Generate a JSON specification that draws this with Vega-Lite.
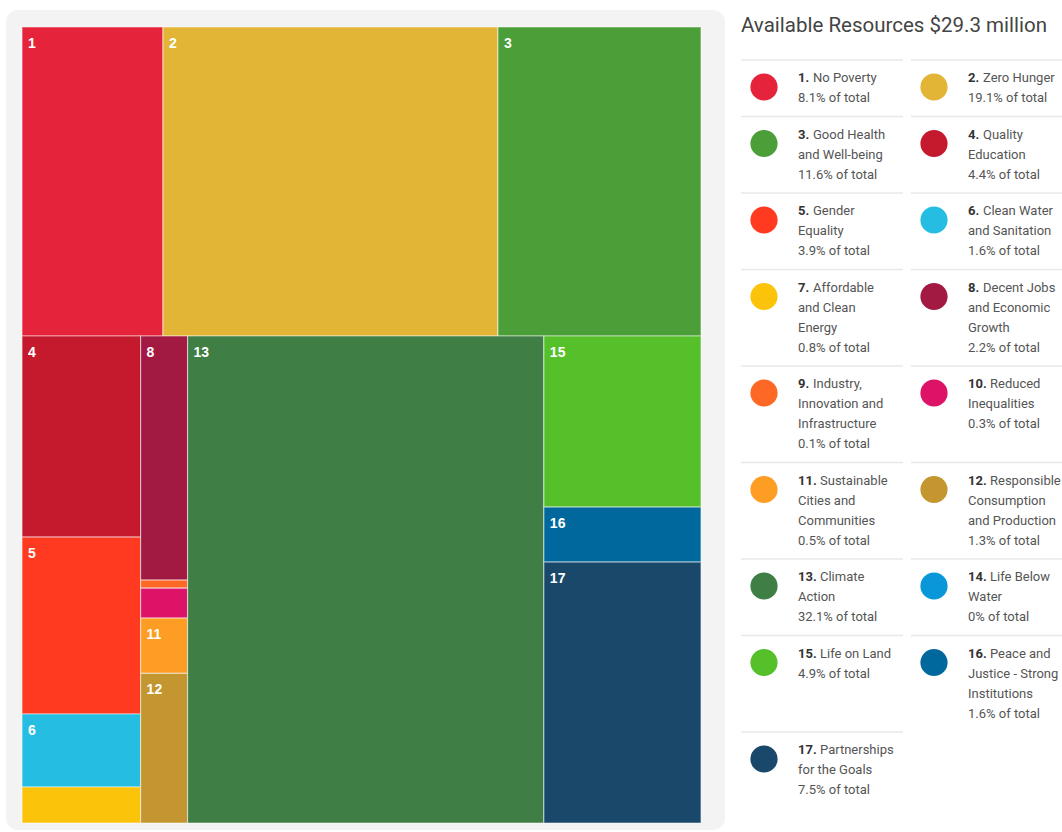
{
  "$schema": "https://vega.github.io/schema/vega-lite/v6.json",
  "padding": {"left": 6, "top": 10, "right": 0, "bottom": 0},
  "background": "white",
  "config": {"view": {"stroke": null}},
  "data": {"values": [
    {"id": 1, "num": "1.", "band": "top", "block": 1, "value": 8.06, "lines": ["No Poverty", "8.1% of total"]},
    {"id": 2, "num": "2.", "band": "top", "block": 2, "value": 19.15, "lines": ["Zero Hunger", "19.1% of total"]},
    {"id": 3, "num": "3.", "band": "top", "block": 3, "value": 11.61, "lines": ["Good Health", "and Well-being", "11.6% of total"]},
    {"id": 4, "num": "4.", "band": "bottom", "block": 1, "value": 4.41, "lines": ["Quality", "Education", "4.4% of total"]},
    {"id": 5, "num": "5.", "band": "bottom", "block": 1, "value": 3.88, "lines": ["Gender", "Equality", "3.9% of total"]},
    {"id": 6, "num": "6.", "band": "bottom", "block": 1, "value": 1.6, "lines": ["Clean Water", "and Sanitation", "1.6% of total"]},
    {"id": 7, "num": "7.", "band": "bottom", "block": 1, "value": 0.79, "lines": ["Affordable", "and Clean", "Energy", "0.8% of total"]},
    {"id": 8, "num": "8.", "band": "bottom", "block": 2, "value": 2.12, "lines": ["Decent Jobs", "and Economic", "Growth", "2.2% of total"]},
    {"id": 9, "num": "9.", "band": "bottom", "block": 2, "value": 0.07, "lines": ["Industry,", "Innovation and", "Infrastructure", "0.1% of total"]},
    {"id": 10, "num": "10.", "band": "bottom", "block": 2, "value": 0.26, "lines": ["Reduced", "Inequalities", "0.3% of total"]},
    {"id": 11, "num": "11.", "band": "bottom", "block": 2, "value": 0.48, "lines": ["Sustainable", "Cities and", "Communities", "0.5% of total"]},
    {"id": 12, "num": "12.", "band": "bottom", "block": 2, "value": 1.3, "lines": ["Responsible", "Consumption", "and Production", "1.3% of total"]},
    {"id": 13, "num": "13.", "band": "bottom", "block": 3, "value": 32.08, "lines": ["Climate", "Action", "32.1% of total"]},
    {"id": 14, "num": "14.", "band": "bottom", "block": 4, "value": 0, "lines": ["Life Below", "Water", "0% of total"]},
    {"id": 15, "num": "15.", "band": "bottom", "block": 4, "value": 4.97, "lines": ["Life on Land", "4.9% of total"]},
    {"id": 16, "num": "16.", "band": "bottom", "block": 4, "value": 1.6, "lines": ["Peace and", "Justice - Strong", "Institutions", "1.6% of total"]},
    {"id": 17, "num": "17.", "band": "bottom", "block": 4, "value": 7.58, "lines": ["Partnerships", "for the Goals", "7.5% of total"]}
  ]},
  "spacing": 15,
  "hconcat": [
    {
      "spacing": 0,
      "bounds": "flush",
      "vconcat": [
        {
          "width": 719,
          "height": 326,
          "layer": [
            {
              "data": {"values": [{}]},
              "mark": {"type": "rect", "color": "#f3f3f3", "cornerRadius": 12},
              "encoding": {
                "x": {"datum": -0.02356, "type": "quantitative", "axis": null},
                "x2": {"datum": 1.03535},
                "y": {"datum": -0.05502, "type": "quantitative", "axis": null},
                "y2": {"datum": 2.5987}
              }
            },
            {
              "transform": [
                {"filter": "datum.band == 'top' && datum.value > 0"},
                {"stack": "value", "groupby": [], "sort": [{"field": "block"}, {"field": "id"}], "offset": "normalize", "as": ["s0", "s1"]},
                {"joinaggregate": [{"op": "min", "field": "s0", "as": "x0"}, {"op": "max", "field": "s1", "as": "x1"}], "groupby": ["block"]},
                {"stack": "value", "groupby": ["block"], "sort": [{"field": "id"}], "offset": "normalize", "as": ["y0", "y1"]}
              ],
              "layer": [
                {
                  "mark": {"type": "rect", "stroke": "white", "strokeWidth": 1.2, "strokeOpacity": 0.5},
                  "encoding": {
                    "x": {"field": "x0", "type": "quantitative", "axis": null, "scale": {"domain": [-0.02356, 1.03535], "nice": false, "zero": false}},
                    "x2": {"field": "x1"},
                    "y": {"field": "y0", "type": "quantitative", "axis": null, "scale": {"domain": [-0.05502, 1], "reverse": true, "nice": false, "zero": false}},
                    "y2": {"field": "y1"},
                    "color": {"field": "id", "type": "nominal", "legend": null, "scale": {"domain": [1,2,3,4,5,6,7,8,9,10,11,12,13,14,15,16,17], "range": ["#E5243B","#E2B536","#4C9F38","#C5192D","#FF3A21","#26BDE2","#FCC30B","#A21942","#FD6925","#DD1367","#FD9D24","#C4962F","#3F7E44","#0A97D9","#56C02B","#00689D","#19486A"]}}
                  }
                },
                {
                  "mark": {"type": "text", "align": "left", "baseline": "alphabetic", "dx": 6, "dy": 20.5, "font": "Liberation Sans", "fontWeight": "bold", "fontSize": 14, "color": "white"},
                  "encoding": {
                    "x": {"field": "x0", "type": "quantitative"},
                    "y": {"field": "y0", "type": "quantitative"},
                    "text": {"field": "id"}
                  }
                }
              ]
            }
          ]
        },
        {
          "width": 719,
          "height": 494,
          "transform": [
            {"filter": "datum.band == 'bottom' && datum.value > 0"},
            {"stack": "value", "groupby": [], "sort": [{"field": "block"}, {"field": "id"}], "offset": "normalize", "as": ["s0", "s1"]},
            {"joinaggregate": [{"op": "min", "field": "s0", "as": "x0"}, {"op": "max", "field": "s1", "as": "x1"}], "groupby": ["block"]},
            {"stack": "value", "groupby": ["block"], "sort": [{"field": "id"}], "offset": "normalize", "as": ["y0", "y1"]}
          ],
          "layer": [
            {
              "mark": {"type": "rect", "stroke": "white", "strokeWidth": 1.2, "strokeOpacity": 0.5},
              "encoding": {
                "x": {"field": "x0", "type": "quantitative", "axis": null, "scale": {"domain": [-0.02356, 1.03535], "nice": false, "zero": false}},
                "x2": {"field": "x1"},
                "y": {"field": "y0", "type": "quantitative", "axis": null, "scale": {"domain": [0, 1.01437], "reverse": true, "nice": false, "zero": false}},
                "y2": {"field": "y1"},
                "color": {"field": "id", "type": "nominal", "legend": null, "scale": {"domain": [1,2,3,4,5,6,7,8,9,10,11,12,13,14,15,16,17], "range": ["#E5243B","#E2B536","#4C9F38","#C5192D","#FF3A21","#26BDE2","#FCC30B","#A21942","#FD6925","#DD1367","#FD9D24","#C4962F","#3F7E44","#0A97D9","#56C02B","#00689D","#19486A"]}}
              }
            },
            {
              "transform": [{"filter": "datum.y1 - datum.y0 > 0.09"}],
              "mark": {"type": "text", "align": "left", "baseline": "alphabetic", "dx": 6, "dy": 20.5, "font": "Liberation Sans", "fontWeight": "bold", "fontSize": 14, "color": "white"},
              "encoding": {
                "x": {"field": "x0", "type": "quantitative"},
                "y": {"field": "y0", "type": "quantitative"},
                "text": {"field": "id"}
              }
            }
          ]
        }
      ]
    },
    {
      "spacing": 14,
      "bounds": "flush",
      "vconcat": [
        {
          "width": 322,
          "height": 36,
          "data": {"values": [{"t": "Available Resources $29.3 million"}]},
          "mark": {"type": "text", "align": "left", "baseline": "alphabetic", "font": "Roboto", "fontSize": 20.5, "color": "#444444", "x": 0, "y": 22},
          "encoding": {"text": {"field": "t"}}
        },
        {
          "transform": [
            {"flatten": ["lines"], "as": ["txt"]},
            {"window": [{"op": "row_number", "as": "ln"}], "groupby": ["id"]}
          ],
          "facet": {"field": "id", "type": "ordinal", "header": {"title": null, "labelExpr": "''", "labelFontSize": 1, "labelPadding": 0, "labelColor": "white"}},
          "columns": 2,
          "spacing": {"row": 16.5, "column": 18},
          "align": "each",
          "bounds": "flush",
          "resolve": {"scale": {"y": "independent"}},
          "spec": {
            "width": 152,
            "height": {"step": 20},
            "layer": [
              {
                "transform": [{"filter": "datum.ln == 1 && datum.id % 2 == 1"}],
                "mark": {"type": "rule", "color": "#e8e8e8", "strokeWidth": 1.5},
                "encoding": {
                  "x": {"value": 0},
                  "x2": {"value": 162},
                  "y": {"field": "ln", "type": "ordinal", "bandPosition": 0, "axis": null, "scale": {"type": "band", "paddingInner": 0, "paddingOuter": 0}}
                }
              },
              {
                "transform": [{"filter": "datum.ln == 1 && datum.id % 2 == 0"}],
                "mark": {"type": "rule", "color": "#e8e8e8", "strokeWidth": 1.5},
                "encoding": {
                  "x": {"value": 0},
                  "x2": {"value": 152},
                  "y": {"field": "ln", "type": "ordinal", "bandPosition": 0, "axis": null}
                }
              },
              {
                "transform": [{"filter": "datum.ln == 2"}],
                "mark": {"type": "circle", "opacity": 1, "size": 740},
                "encoding": {
                  "x": {"value": 23},
                  "y": {"field": "ln", "type": "ordinal", "bandPosition": 0.35, "axis": null},
                  "color": {"field": "id", "type": "nominal", "legend": null, "scale": {"domain": [1,2,3,4,5,6,7,8,9,10,11,12,13,14,15,16,17], "range": ["#E5243B","#E2B536","#4C9F38","#C5192D","#FF3A21","#26BDE2","#FCC30B","#A21942","#FD6925","#DD1367","#FD9D24","#C4962F","#3F7E44","#0A97D9","#56C02B","#00689D","#19486A"]}}
                }
              },
              {
                "transform": [{"filter": "datum.ln == 1"}],
                "mark": {"type": "text", "align": "left", "baseline": "alphabetic", "dy": 12, "font": "Roboto", "fontSize": 13, "fontWeight": "bold", "color": "#333333"},
                "encoding": {
                  "x": {"value": 57},
                  "y": {"field": "ln", "type": "ordinal", "bandPosition": 0.5, "axis": null},
                  "text": {"field": "num"}
                }
              },
              {
                "transform": [{"filter": "datum.ln == 1 && datum.id < 10"}],
                "mark": {"type": "text", "align": "left", "baseline": "alphabetic", "dy": 12, "dx": 15, "font": "Roboto", "fontSize": 13, "color": "#555555"},
                "encoding": {
                  "x": {"value": 57},
                  "y": {"field": "ln", "type": "ordinal", "bandPosition": 0.5, "axis": null},
                  "text": {"field": "txt"}
                }
              },
              {
                "transform": [{"filter": "datum.ln == 1 && datum.id >= 10"}],
                "mark": {"type": "text", "align": "left", "baseline": "alphabetic", "dy": 12, "dx": 22, "font": "Roboto", "fontSize": 13, "color": "#555555"},
                "encoding": {
                  "x": {"value": 57},
                  "y": {"field": "ln", "type": "ordinal", "bandPosition": 0.5, "axis": null},
                  "text": {"field": "txt"}
                }
              },
              {
                "transform": [{"filter": "datum.ln > 1"}],
                "mark": {"type": "text", "align": "left", "baseline": "alphabetic", "dy": 12, "font": "Roboto", "fontSize": 13, "color": "#555555"},
                "encoding": {
                  "x": {"value": 57},
                  "y": {"field": "ln", "type": "ordinal", "bandPosition": 0.5, "axis": null},
                  "text": {"field": "txt"}
                }
              }
            ]
          }
        }
      ]
    }
  ]
}
